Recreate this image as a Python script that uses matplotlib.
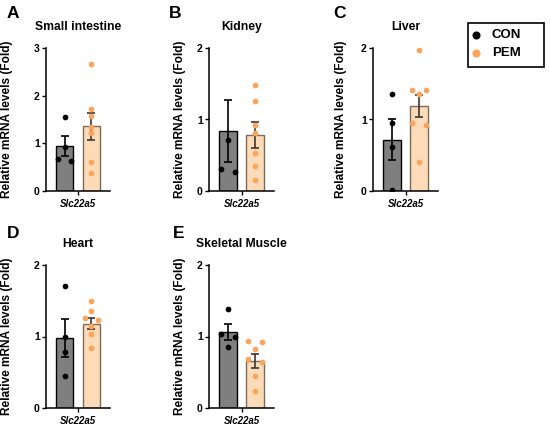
import matplotlib
matplotlib.use('Agg')
import matplotlib.pyplot as plt
from matplotlib.lines import Line2D
from matplotlib.patches import Rectangle

plt.rcParams['font.family'] = ['Liberation Sans', 'DejaVu Sans']
plt.rcParams['font.weight'] = 'bold'

# values (relative mRNA levels, fold)
titles = ['Small intestine', 'Kidney', 'Liver', 'Heart', 'Skeletal Muscle']
letters = ['A', 'B', 'C', 'D', 'E']
gene = 'Slc22a5'
groups = ['CON', 'PEM']
ymax = [3, 2, 2, 2, 2]

con_points = [
    [1.55, 0.92, 0.62, 0.67],
    [0.72, 0.31, 0.27],
    [1.36, 0.95, 0.615, 0.01],
    [1.71, 1.00, 0.79, 0.45],
    [1.38, 1.04, 0.995, 0.85],
]
pem_points = [
    [2.66, 1.73, 1.57, 1.35, 1.22, 0.60, 0.38],
    [1.48, 1.26, 0.92, 0.815, 0.53, 0.35, 0.16],
    [1.97, 1.41, 1.41, 1.35, 0.955, 0.92, 0.41],
    [1.49, 1.35, 1.26, 1.23, 1.14, 1.04, 0.84],
    [0.94, 0.925, 0.83, 0.69, 0.65, 0.45, 0.24],
]
con_mean = [0.94, 0.84, 0.72, 0.98, 1.06]
con_sem = [0.21, 0.43, 0.285, 0.265, 0.11]
pem_mean = [1.36, 0.78, 1.19, 1.18, 0.66]
pem_sem = [0.28, 0.18, 0.155, 0.075, 0.10]

CON_BAR = '#7f7f7f'
PEM_BAR = '#fddbb8'
PEM_EDGE = '#7d6b5a'
PEM_DOT = '#fba45c'

W, H = 550, 434
fig = plt.figure(figsize=(W / 100, H / 100), dpi=100)

# panel boxes in pixels: left, right, top, bottom
boxes = [(46, 110, 48, 191), (209, 274, 48, 191), (373, 438, 48, 191),
         (46, 110, 265, 408), (209, 274, 265, 408)]
letter_xy = [(13, 14), (175, 14), (339, 14), (13, 234), (179, 234)]
ylab_x = [7.5, 180, 341, 7.5, 180]


def fx(x):
    return x / W


def fy(y):
    return 1 - y / H


def spread(vals, ppu, gap=6.0, step=0.25):
    # prism-like: points too close vertically are pushed sideways
    order = sorted(range(len(vals)), key=lambda i: -vals[i])
    grp = []
    for i in order:
        if grp and (vals[grp[-1][-1]] - vals[i]) * ppu < gap:
            grp[-1].append(i)
        else:
            grp.append([i])
    pats = {1: [0], 2: [-1, 1], 3: [-1, 1, 0], 4: [-1.5, -0.5, 0.5, 1.5]}
    offs = [0.0] * len(vals)
    for g in grp:
        for i, p in zip(g, pats[len(g)]):
            offs[i] = p * step
    return offs


for k in range(5):
    l, r, t, b = boxes[k]
    ax = fig.add_axes([fx(l), fy(b), (r - l) / W, (b - t) / H])
    ppu = (b - t) / ymax[k]

    ax.bar([0], [con_mean[k]], width=0.65, color=CON_BAR, edgecolor='black',
           linewidth=1.0, zorder=1)
    ax.bar([1], [pem_mean[k]], width=0.65, color=PEM_BAR, edgecolor=PEM_EDGE,
           linewidth=1.0, zorder=1)
    ax.errorbar([0], [con_mean[k]], yerr=[con_sem[k]], color='black', lw=1.2,
                capsize=3, capthick=1.2, zorder=2)
    ax.errorbar([1], [pem_mean[k]], yerr=[pem_sem[k]], color='#3d3530', lw=1.2,
                capsize=3, capthick=1.2, zorder=2)

    co = spread(con_points[k], ppu)
    po = spread(pem_points[k], ppu)
    ax.scatter([0 + o for o in co], con_points[k], s=17, color='black',
               linewidths=0, zorder=3)
    ax.scatter([1 + o for o in po], pem_points[k], s=17, color=PEM_DOT,
               linewidths=0, zorder=3)

    ax.set_xlim(-0.7, 1.7)
    ax.set_ylim(0, ymax[k])
    ax.set_yticks(range(ymax[k] + 1))
    ax.set_xticks([0.5])
    ax.set_xticklabels([gene], fontstyle='italic', fontweight='bold', fontsize=7)
    ax.tick_params(axis='y', labelsize=7.5, length=3, width=1, pad=1.5)
    ax.tick_params(axis='x', length=3, width=1, pad=3)
    for lab in ax.get_yticklabels():
        lab.set_fontweight('bold')
    for s in ['top', 'right']:
        ax.spines[s].set_visible(False)
    for s in ['left', 'bottom']:
        ax.spines[s].set_linewidth(1.1)
    ax.set_title(titles[k], fontsize=8.7, fontweight='bold', pad=13)

    fig.text(fx(ylab_x[k]), fy((t + b) / 2), 'Relative mRNA levels (Fold)',
             rotation=90, ha='center', va='center', fontsize=8.6,
             fontweight='bold')
    lx, ly = letter_xy[k]
    fig.text(fx(lx), fy(ly), letters[k], ha='center', va='center',
             fontsize=12.5, fontweight='bold')

# legend box drawn by hand so the padding matches the prism one
fig.add_artist(Rectangle((fx(468), fy(67)), 76 / W, 44 / H,
                         transform=fig.transFigure, fill=False,
                         edgecolor='black', linewidth=1.2))
for name, col, yy in zip(groups, ['black', PEM_DOT], [35, 53]):
    fig.add_artist(Line2D([fx(476)], [fy(yy)], marker='o', ls='none',
                          color=col, markersize=4.8,
                          transform=fig.transFigure))
    fig.text(fx(492), fy(yy), name, ha='left', va='center', fontsize=9.5,
             fontweight='bold')

fig.savefig('out.png', dpi=100)
